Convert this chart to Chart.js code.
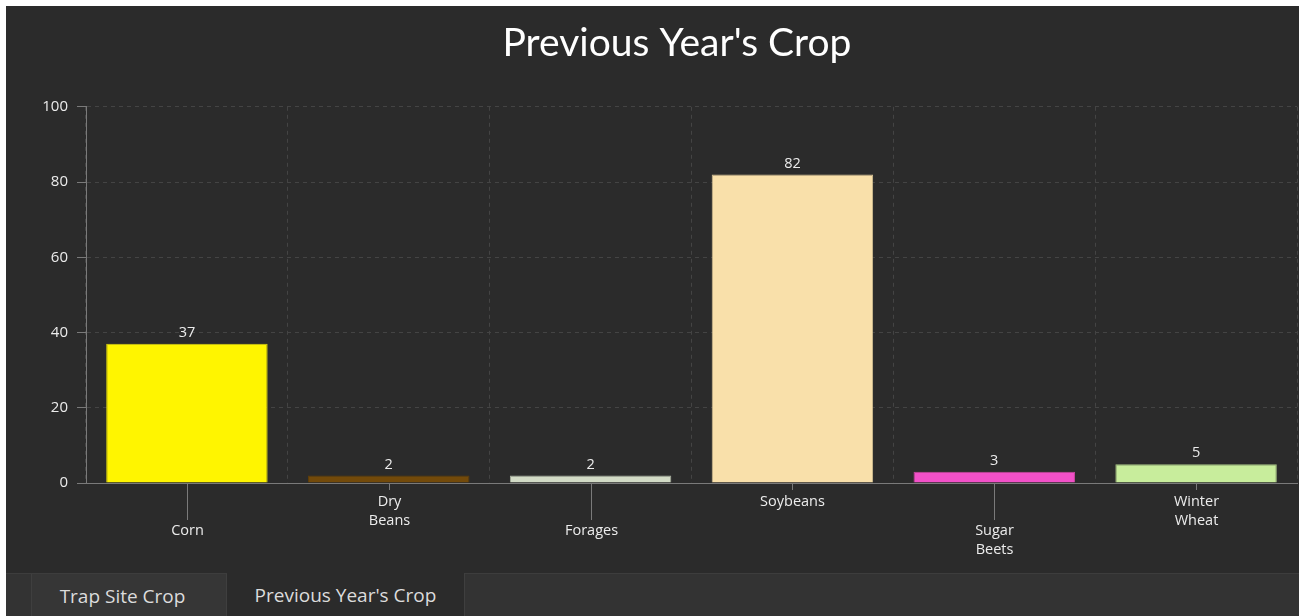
<!DOCTYPE html>
<html><head><meta charset="utf-8">
<script src="https://cdn.jsdelivr.net/npm/chart.js@4.4.1/dist/chart.umd.min.js"></script>
<style>
html,body{margin:0;padding:0;background:#fff;width:1299px;height:616px;overflow:hidden;font-family:"Open Sans",Lato,sans-serif}
#panel{position:absolute;left:6px;top:6px;width:1293px;height:567px;background:#2b2b2b}
#tabs{position:absolute;left:6px;top:573px;width:1293px;height:43px;background:#333333;border-top:1px solid #3d3d3d;box-sizing:border-box}
.tab{position:absolute;top:-1px;height:44px;font-size:19px;color:#dcdcdc;line-height:44px;text-align:center;box-sizing:border-box}
#t1{left:25px;width:196px;padding-right:13px;background:#363636;border-left:1px solid #3f3f3f;border-right:1px solid #3f3f3f;border-top:1px solid #3d3d3d}
#t2{left:221px;width:238px;background:#2b2b2b;border-right:1px solid #3f3f3f}
</style></head>
<body>
<div id="panel"><canvas id="c" width="1293" height="567"></canvas></div>
<div id="tabs"><div class="tab" id="t1">Trap Site Crop</div><div class="tab" id="t2">Previous Year's Crop</div></div>
<script>
const chartTitle = "Previous Year's Crop";
const categories = ["Corn", "Dry Beans", "Forages", "Soybeans", "Sugar Beets", "Winter Wheat"];
const labelLines = [["Corn"], ["Dry", "Beans"], ["Forages"], ["Soybeans"], ["Sugar", "Beets"], ["Winter", "Wheat"]];
const counts = [37, 2, 2, 82, 3, 5];
const barColors = ["#fff500", "#734a0a", "#d2dbc6", "#f9e0aa", "#f250c8", "#c8ed9c"];
const barBorders = ["#d8cf10", "#5e3e0a", "#a9b09f", "#d8c294", "#c9459f", "#a7c484"];
const yTicks = [0, 20, 40, 60, 80, 100];

const FONT = '"Open Sans", Lato, sans-serif';
const TITLE_FONT = 'Lato, "Open Sans", sans-serif';

const overlay = {
  id: 'overlay',
  afterLayout(chart) {
    // shift the centred title to match the reference placement
    chart.titleBlock.left += 8.5;
    chart.titleBlock.right += 8.5;
  },
  afterDraw(chart) {
    const ctx = chart.ctx;
    const xs = chart.scales.x;
    const bottom = chart.chartArea.bottom;
    ctx.save();
    labelLines.forEach((lines, i) => {
      const x = Math.round(xs.getPixelForValue(i)) + 0.5;
      const long = i % 2 === 0;
      ctx.strokeStyle = '#7a7a7a';
      ctx.lineWidth = 1;
      ctx.beginPath();
      ctx.moveTo(x, bottom);
      ctx.lineTo(x, bottom + (long ? 37 : 7));
      ctx.stroke();
      ctx.fillStyle = '#ececec';
      ctx.font = '14.5px ' + FONT;
      ctx.textAlign = 'center';
      ctx.textBaseline = 'middle';
      const y0 = bottom + (long ? 48 : 19);
      lines.forEach((t, j) => ctx.fillText(t, x, y0 + j * 19));
    });
    const meta = chart.getDatasetMeta(0);
    meta.data.forEach((bar, i) => {
      ctx.fillStyle = '#ececec';
      ctx.font = '14.5px ' + FONT;
      ctx.textAlign = 'center';
      ctx.textBaseline = 'middle';
      ctx.fillText(String(counts[i]), bar.x, bar.y - 11);
    });
    ctx.restore();
  }
};

new Chart(document.getElementById('c'), {
  type: 'bar',
  data: {
    labels: categories,
    datasets: [{
      data: counts,
      backgroundColor: barColors,
      borderColor: barBorders,
      borderWidth: 1,
      barPercentage: 0.8,
      categoryPercentage: 1.0
    }]
  },
  options: {
    responsive: false,
    animation: false,
    layout: { padding: { left: 34, right: 2, top: 0, bottom: 90 } },
    plugins: {
      legend: { display: false },
      tooltip: { enabled: false },
      title: {
        display: true,
        text: chartTitle,
        color: '#ffffff',
        font: { family: TITLE_FONT, size: 39, weight: 'normal' },
        padding: { top: 14, bottom: 40 }
      }
    },
    scales: {
      x: {
        offset: true,
        grid: { offset: true, color: '#444444', drawTicks: false },
        border: { color: '#7a7a7a', dash: [4, 4] },
        ticks: { display: false }
      },
      y: {
        min: 0, max: 100,
        afterBuildTicks(scale) { scale.ticks = yTicks.map(v => ({ value: v })); },
        afterFit(scale) { scale.width = 46; },
        grid: { color: '#444444', tickLength: 9, tickColor: '#7a7a7a', tickBorderDash: [] },
        border: { color: '#7a7a7a', dash: [4, 4] },
        ticks: { color: '#ececec', font: { family: FONT, size: 15 }, padding: 9 }
      }
    }
  },
  plugins: [overlay]
});
</script>
</body></html>
